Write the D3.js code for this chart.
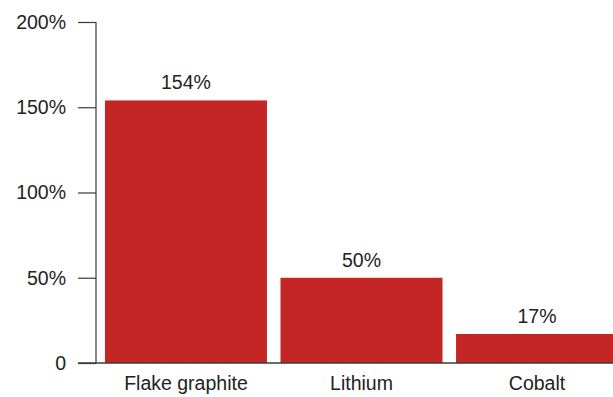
<!DOCTYPE html>
<html>
<head>
<meta charset="utf-8">
<script src="https://cdn.jsdelivr.net/npm/d3@7"></script>
<style>
  html, body { margin: 0; padding: 0; background: #fff; }
  svg { display: block; font-family: "Liberation Sans", Arial, Helvetica, sans-serif; }
</style>
</head>
<body>
<svg id="chart" width="613" height="397"></svg>
<script>
// Growth by material
const categories = ["Flake graphite", "Lithium", "Cobalt"];
const values = [154, 50, 17];
const tickValues = [0, 50, 100, 150, 200];
const tickLabels = ["0", "50%", "100%", "150%", "200%"];

const svg = d3.select("#chart");
const fontSize = 19.5;
const barColor = "#c42626";
const axisColor = "#3a3a3a";

const y = d3.scaleLinear().domain([0, 200]).range([363, 22]);
const x = d3.scaleBand()
  .domain(categories)
  .range([96, 627])
  .paddingInner(0.077)
  .paddingOuter(0.051);

// bars
svg.append("g").selectAll("rect")
  .data(values)
  .join("rect")
  .attr("x", (d, i) => x(categories[i]))
  .attr("width", x.bandwidth())
  .attr("y", d => y(d))
  .attr("height", d => y(0) - y(d))
  .attr("fill", barColor);

// value labels
svg.append("g").selectAll("text")
  .data(values)
  .join("text")
  .attr("x", (d, i) => x(categories[i]) + x.bandwidth() / 2)
  .attr("y", d => y(d) - 11)
  .attr("text-anchor", "middle")
  .attr("font-size", fontSize)
  .attr("fill", "#222")
  .text(d => d + "%");

// y axis
const yAxis = d3.axisLeft(y)
  .tickValues(tickValues)
  .tickFormat((d, i) => tickLabels[i])
  .tickSize(18)
  .tickPadding(12);

const gy = svg.append("g")
  .attr("transform", "translate(96,0)")
  .call(yAxis);
gy.select(".domain").remove();
gy.selectAll(".tick line").attr("stroke", axisColor).attr("stroke-width", 1.2);
gy.selectAll(".tick text")
  .attr("font-size", fontSize)
  .attr("font-family", "Liberation Sans, Arial, sans-serif")
  .attr("fill", "#222");

// vertical axis line
svg.append("line")
  .attr("x1", 96).attr("x2", 96)
  .attr("y1", y(200)).attr("y2", y(0))
  .attr("stroke", axisColor).attr("stroke-width", 1.2);

// baseline
svg.append("line")
  .attr("x1", 78).attr("x2", 613)
  .attr("y1", y(0)).attr("y2", y(0))
  .attr("stroke", axisColor).attr("stroke-width", 1.5);

// category labels
svg.append("g").selectAll("text")
  .data(categories)
  .join("text")
  .attr("x", d => x(d) + x.bandwidth() / 2)
  .attr("y", 390)
  .attr("text-anchor", "middle")
  .attr("font-size", fontSize)
  .attr("fill", "#222")
  .text(d => d);
</script>
</body>
</html>
